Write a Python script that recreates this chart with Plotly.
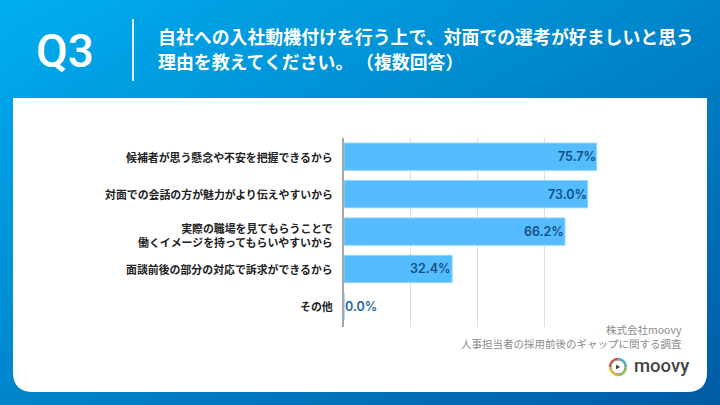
import plotly.graph_objects as go
import base64

categories = [
    "候補者が思う懸念や不安を把握できるから",
    "対面での会話の方が魅力がより伝えやすいから",
    "実際の職場を見てもらうことで<br>働くイメージを持ってもらいやすいから",
    "面談前後の部分の対応で訴求ができるから",
    "その他",
]
values = [75.7, 73.0, 66.2, 32.4, 0.0]
value_labels = ["75.7%", "73.0%", "66.2%", "32.4%", "0.0%"]
grid_ticks = [0, 20, 40, 60, 80]

question_lines = [
    "自社への入社動機付けを行う上で、対面での選考が好ましいと思う",
    "理由を教えてください。",
    "（複数回答）",
]
source_lines = ["株式会社moovy", "人事担当者の採用前後のギャップに関する調査"]

W, H = 720, 405
JP = "Noto Sans CJK JP"


def svg_uri(svg):
    return "data:image/svg+xml;base64," + base64.b64encode(svg.encode()).decode()


bg_svg = (
    f'<svg xmlns="http://www.w3.org/2000/svg" width="{W}" height="{H}">'
    '<defs><linearGradient id="g" x1="0" y1="0" x2="1" y2="1">'
    '<stop offset="0" stop-color="#00aeef"/><stop offset="1" stop-color="#005ba6"/>'
    '</linearGradient></defs>'
    f'<rect width="{W}" height="{H}" fill="url(#g)"/></svg>'
)

logo_svg = (
    '<svg xmlns="http://www.w3.org/2000/svg" width="60" height="60" viewBox="0 0 60 60">'
    '<g fill="none" stroke-width="5">'
    '<path d="M30 5 A25 25 0 0 1 55 30" stroke="#35b4c9"/>'
    '<path d="M55 30 A25 25 0 0 1 30 55" stroke="#8cc63f"/>'
    '<path d="M30 55 A25 25 0 0 1 5 30" stroke="#f5c518"/>'
    '<path d="M5 30 A25 25 0 0 1 30 5" stroke="#d9372c"/>'
    '</g><circle cx="30" cy="30" r="21" fill="none" stroke="#444" stroke-width="2"/>'
    '<path d="M24 23 L37 30 L24 37 Z" fill="#444"/></svg>'
)


def px_x(v):
    return v / W


def px_y(v):
    return 1 - v / H


def page_text(x, y, text, font, xanchor="left"):
    return dict(x=px_x(x), y=px_y(y), xref="paper", yref="paper", text=text, showarrow=False,
                xanchor=xanchor, yanchor="middle", font=font)


fig = go.Figure()

fig.add_trace(go.Bar(
    y=categories,
    x=values,
    orientation="h",
    marker=dict(color="#55bcff", line=dict(color="#8fd4ff", width=1)),
    hoverinfo="skip",
    width=0.73,
))

# labels sit inside the end of the long bars, 0.0% sits just past the axis
annotations = []
for cat, val, lab in zip(categories, values, value_labels):
    annotations.append(dict(
        x=val, y=cat, xref="x", yref="y", text=lab, showarrow=False,
        xanchor="right" if val > 0 else "left", xshift=1 if val > 0 else -1,
        font=dict(family="Inter", size=12.5, weight=600, color="#124f80" if val > 0 else "#1a689e"),
    ))
    # category names as annotations, the two line one sits a bit low in the reference
    annotations.append(dict(
        x=px_x(334.5), y=cat, xref="paper", yref="y", text=cat, showarrow=False,
        xanchor="right", align="right", yshift=-3 if "<br>" in cat else 0,
        font=dict(family=JP, size=10.9, color="#222222", weight=700),
    ))

title_font = dict(family=JP, size=17.9, color="white", weight=700)
source_font = dict(family=JP, size=10.5, color="#8c8c8c")
annotations += [
    page_text(65, 51, "Q3", dict(family="Roboto", size=46, color="white", weight=500), "center"),
    page_text(155.5, 36, question_lines[0], title_font),
    page_text(155.5, 61, question_lines[1], title_font),
    page_text(353.5, 61, question_lines[2], title_font),
    page_text(684, 329, source_lines[0], source_font, "right"),
    page_text(684, 343, source_lines[1], source_font, "right"),
    page_text(632, 366, "moovy", dict(family="Roboto", size=18.5, color="#444444", weight=500)),
]

card_path = (
    f"M {px_x(13)} {px_y(98)} L {px_x(707)} {px_y(98)} L {px_x(707)} {px_y(372)} "
    f"Q {px_x(707)} {px_y(392)} {px_x(687)} {px_y(392)} L {px_x(33)} {px_y(392)} "
    f"Q {px_x(13)} {px_y(392)} {px_x(13)} {px_y(372)} Z"
)

fig.update_layout(
    width=W,
    height=H,
    margin=dict(l=0, r=0, t=0, b=0),
    showlegend=False,
    paper_bgcolor="white",
    plot_bgcolor="rgba(0,0,0,0)",
    annotations=annotations,
    images=[
        dict(source=svg_uri(bg_svg), xref="paper", yref="paper", x=0, y=1, sizex=1, sizey=1,
             xanchor="left", yanchor="top", sizing="stretch", layer="below"),
        dict(source=svg_uri(logo_svg), xref="paper", yref="paper", x=px_x(608), y=px_y(357),
             sizex=20 / W, sizey=20 / H, xanchor="left", yanchor="top", sizing="stretch", layer="above"),
    ],
    shapes=[
        dict(type="path", path=card_path, xref="paper", yref="paper",
             fillcolor="white", line=dict(width=0), layer="below"),
        dict(type="line", x0=px_x(133), x1=px_x(133), y0=px_y(19), y1=px_y(81), xref="paper", yref="paper",
             line=dict(color="rgba(255,255,255,0.85)", width=2)),
    ],
    xaxis=dict(
        domain=[px_x(344), px_x(611)],
        range=[0, 80],
        tickvals=grid_ticks,
        showticklabels=False,
        showgrid=True,
        gridcolor="#dedede",
        gridwidth=1,
        zeroline=False,
        showline=False,
    ),
    yaxis=dict(
        domain=[px_y(327), px_y(138)],
        range=[4.55, -0.5],
        showgrid=False,
        showline=True,
        linecolor="#a6a6a6",
        linewidth=2,
        ticks="",
        showticklabels=False,
        zeroline=False,
    ),
)

# body margin would push the page 8px down and right
fig.write_html("out.html", config=dict(displayModeBar=False), post_script="document.body.style.margin='0';")
